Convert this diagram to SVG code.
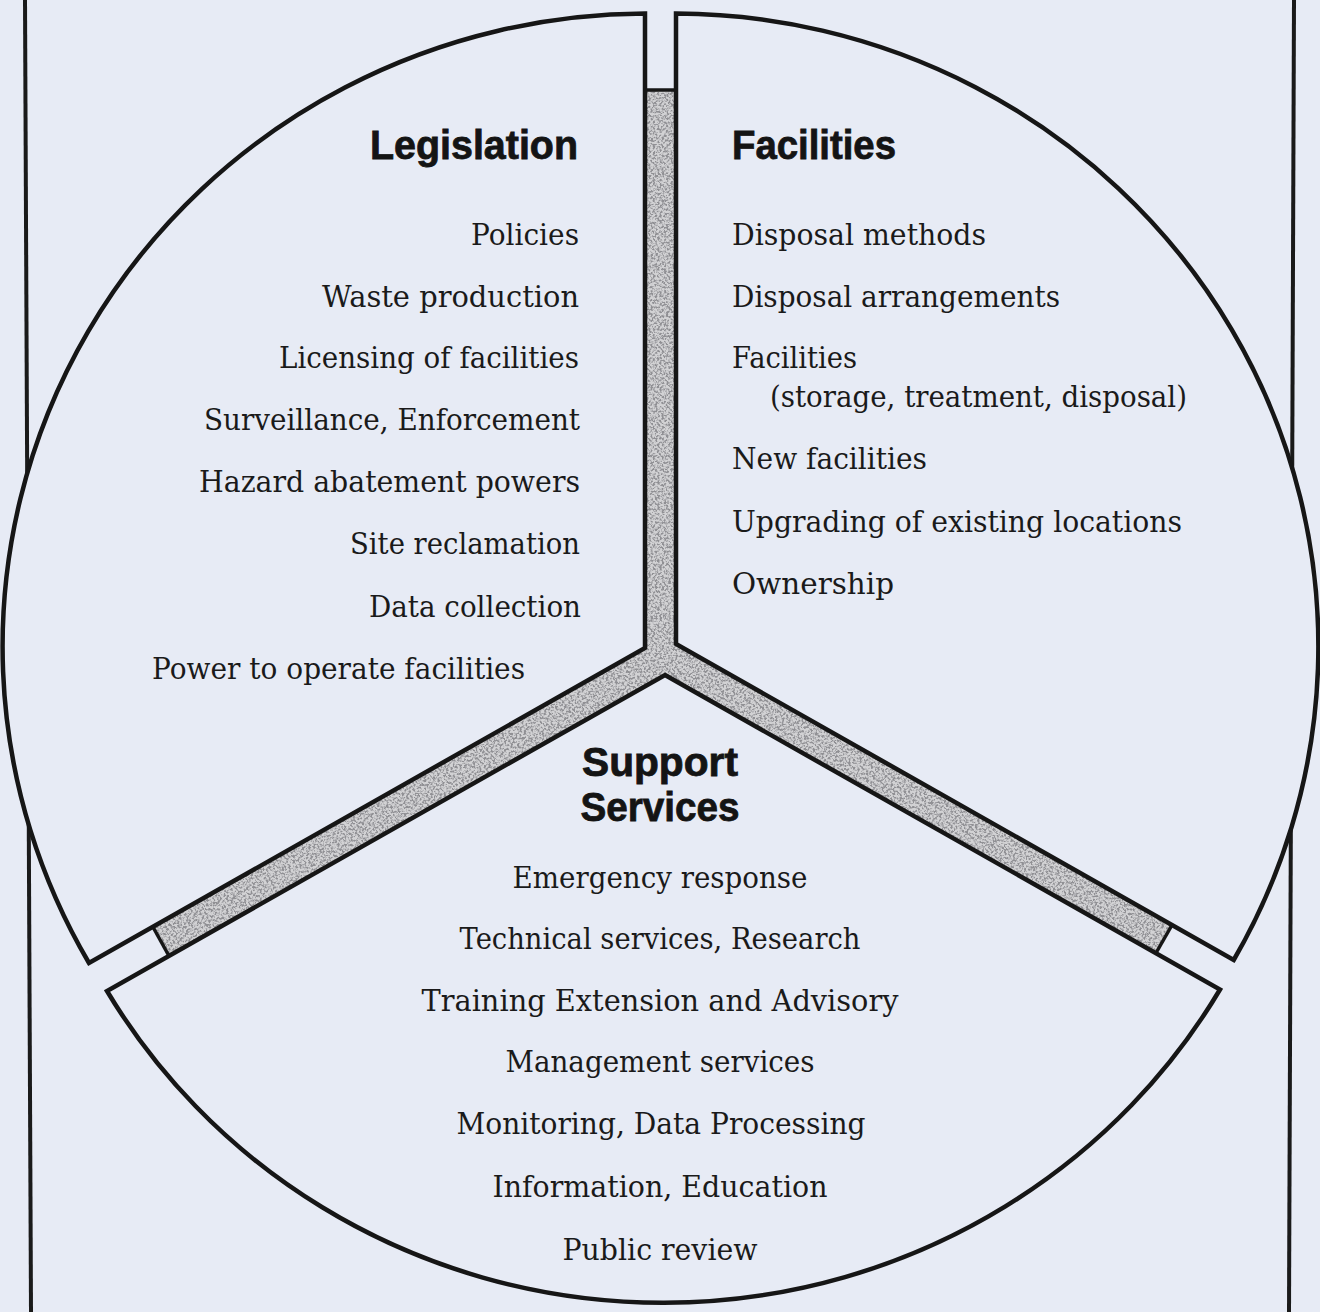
<svg xmlns="http://www.w3.org/2000/svg" width="1320" height="1312" viewBox="0 0 1320 1312">
  <style>
    .bg { fill: #e7ebf5; }
    .frame { stroke: #1a1a1a; stroke-width: 4; fill: none; }
    .piece { fill: #e7ebf5; stroke: #161616; stroke-width: 4.5; stroke-linejoin: miter; }
    .band { fill: #d2d2d4; }
    .cap { stroke: #161616; stroke-width: 3.5; fill: none; }
    .item { font-family: "DejaVu Serif", "Liberation Serif", serif; font-size: 30px; fill: #1a1a1a; }
    .head { font-family: "Liberation Sans", Arial, sans-serif; font-weight: bold; font-size: 40px; fill: #141414; stroke: #141414; stroke-width: 0.8; }
    .end { text-anchor: end; }
    .mid { text-anchor: middle; }
  </style>
  <defs>
    <!-- speckled grey texture for the Y-shaped divider -->
    <filter id="grain">
      <feTurbulence type="fractalNoise" baseFrequency="0.45" numOctaves="3" seed="7" result="noise"/>
      <feColorMatrix in="noise" type="matrix" values="0 0 0 0 0.28  0 0 0 0 0.28  0 0 0 0 0.3  4.5 0 0 0 -1.9" result="specks"/>
      <feComposite in="specks" in2="SourceGraphic" operator="in" result="inside"/>
      <feMerge>
        <feMergeNode in="SourceGraphic"/>
        <feMergeNode in="inside"/>
      </feMerge>
    </filter>
  </defs>

  <rect class="bg" x="0" y="0" width="1320" height="1312"/>

  <!-- page frame lines behind the pie -->
  <g id="frame">
    <line class="frame" x1="25" y1="0" x2="31" y2="1312"/>
    <line class="frame" x1="1294" y1="0" x2="1289" y2="1312"/>
  </g>

  <!-- Y-shaped divider between the three sectors -->
  <g id="connectors">
    <polygon class="band" filter="url(#grain)" points="645,90 676,90 676,644 1172,925 1156,953 665,675 169,956 153,927 645,648"/>
    <line class="cap" x1="645" y1="90" x2="676" y2="90"/>
    <line class="cap" x1="1172" y1="925" x2="1156" y2="953"/>
    <line class="cap" x1="153" y1="927" x2="169" y2="956"/>
  </g>

  <!-- Legislation sector -->
  <g id="legislation">
    <path class="piece" d="M645,13.5 L645,648 L89,963 A645,633 0 0 1 645,13.5 Z"/>
    <text class="head end" x="578" y="159" textLength="208" lengthAdjust="spacingAndGlyphs">Legislation</text>
    <text class="item end" x="579" y="245" textLength="108" lengthAdjust="spacingAndGlyphs">Policies</text>
    <text class="item end" x="579" y="307" textLength="257" lengthAdjust="spacingAndGlyphs">Waste production</text>
    <text class="item end" x="579" y="368" textLength="300" lengthAdjust="spacingAndGlyphs">Licensing of facilities</text>
    <text class="item end" x="580" y="430" textLength="376" lengthAdjust="spacingAndGlyphs">Surveillance, Enforcement</text>
    <text class="item end" x="580" y="492" textLength="381" lengthAdjust="spacingAndGlyphs">Hazard abatement powers</text>
    <text class="item end" x="580" y="554" textLength="230" lengthAdjust="spacingAndGlyphs">Site reclamation</text>
    <text class="item end" x="581" y="617" textLength="212" lengthAdjust="spacingAndGlyphs">Data collection</text>
    <text class="item" x="152" y="679" textLength="373" lengthAdjust="spacingAndGlyphs">Power to operate facilities</text>
  </g>

  <!-- Facilities sector -->
  <g id="facilities">
    <path class="piece" d="M676,13.5 L676,644 L1233.7,960 A645,633 0 0 0 676,13.5 Z"/>
    <text class="head" x="732" y="159" textLength="164" lengthAdjust="spacingAndGlyphs">Facilities</text>
    <text class="item" x="732" y="245" textLength="254" lengthAdjust="spacingAndGlyphs">Disposal methods</text>
    <text class="item" x="732" y="307" textLength="328" lengthAdjust="spacingAndGlyphs">Disposal arrangements</text>
    <text class="item" x="732" y="368" textLength="125" lengthAdjust="spacingAndGlyphs">Facilities</text>
    <text class="item" x="770" y="407" textLength="417" lengthAdjust="spacingAndGlyphs">(storage, treatment, disposal)</text>
    <text class="item" x="732" y="469" textLength="195" lengthAdjust="spacingAndGlyphs">New facilities</text>
    <text class="item" x="732" y="532" textLength="450" lengthAdjust="spacingAndGlyphs">Upgrading of existing locations</text>
    <text class="item" x="732" y="594" textLength="162" lengthAdjust="spacingAndGlyphs">Ownership</text>
  </g>

  <!-- Support Services sector -->
  <g id="support-services">
    <path class="piece" d="M665,675 L1220,989.5 A645,632 0 0 1 107,991 Z"/>
    <text class="head mid" x="660" y="776" textLength="156" lengthAdjust="spacingAndGlyphs">Support</text>
    <text class="head mid" x="660" y="821" textLength="159" lengthAdjust="spacingAndGlyphs">Services</text>
    <text class="item mid" x="660" y="888" textLength="295" lengthAdjust="spacingAndGlyphs">Emergency response</text>
    <text class="item mid" x="660" y="949" textLength="401" lengthAdjust="spacingAndGlyphs">Technical services, Research</text>
    <text class="item mid" x="660" y="1011" textLength="477" lengthAdjust="spacingAndGlyphs">Training Extension and Advisory</text>
    <text class="item mid" x="660" y="1072" textLength="309" lengthAdjust="spacingAndGlyphs">Management services</text>
    <text class="item mid" x="661" y="1134" textLength="409" lengthAdjust="spacingAndGlyphs">Monitoring, Data Processing</text>
    <text class="item mid" x="660" y="1197" textLength="335" lengthAdjust="spacingAndGlyphs">Information, Education</text>
    <text class="item mid" x="660" y="1260" textLength="195" lengthAdjust="spacingAndGlyphs">Public review</text>
  </g>
</svg>
